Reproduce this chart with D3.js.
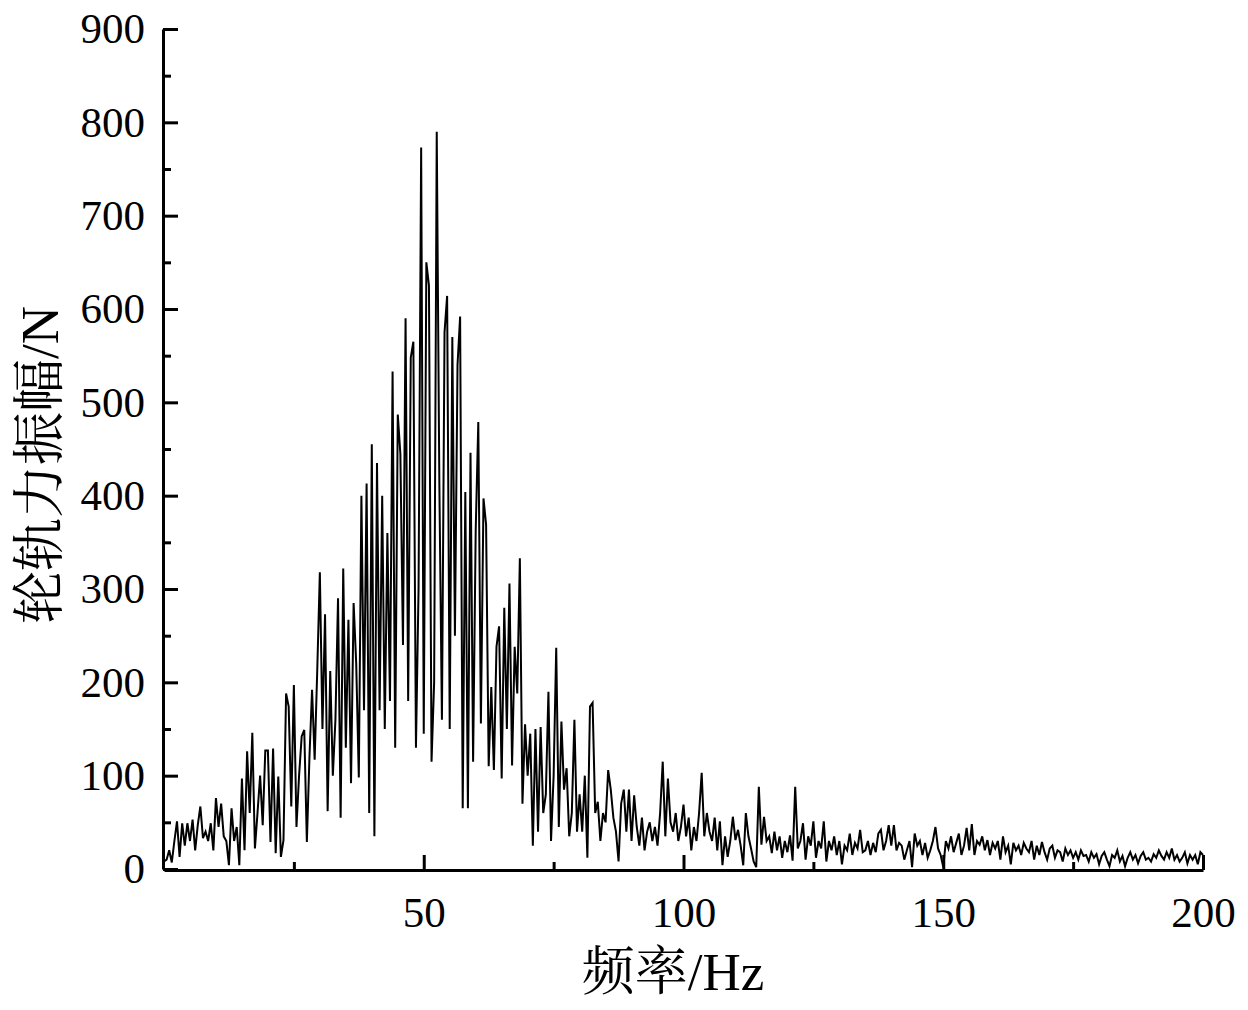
<!DOCTYPE html>
<html>
<head>
<meta charset="utf-8">
<script src="https://cdn.jsdelivr.net/npm/d3@7"></script>
<style>
  html, body { margin: 0; padding: 0; background: #fff; }
  svg { display: block; }
</style>
</head>
<body>
<svg id="chart" width="1248" height="1010"></svg>
<script>
// ---- data (amplitude in N, sampled every 0.5 Hz from 0 Hz) ----
const freqStart = 0;
const freqStep = 0.5;
const amp0to25 = [
  8, 10, 20, 7, 30, 51, 13, 49, 25, 49,
  30, 53, 20, 47, 67, 33, 40, 30, 49, 20,
  76, 45, 70, 35, 30, 4, 65, 30, 45, 4,
  97, 20, 126, 60, 146, 22, 60, 100, 47, 127,
  127, 29, 129, 17, 99, 13, 31, 188, 174, 67
];
const amp25to50 = [
  197, 45, 100, 142, 149, 29, 120, 192, 117, 213,
  318, 150, 273, 62, 212, 100, 160, 290, 55, 322,
  130, 267, 92, 285, 220, 98, 400, 170, 413, 60,
  455, 35, 435, 170, 400, 150, 360, 180, 533, 130,
  487, 445, 240, 590, 180, 548, 565, 130, 300, 773
];
const amp50to75 = [
  145, 650, 625, 115, 200, 790, 415, 160, 575, 614,
  150, 570, 250, 540, 592, 65, 404, 65, 446, 115,
  363, 479, 156, 397, 369, 110, 195, 106, 238, 260,
  97, 280, 150, 306, 111, 238, 188, 333, 70, 155,
  100, 145, 25, 150, 40, 152, 60, 80, 190, 30
];
const amp75to100 = [
  100, 237, 45, 158, 85, 108, 35, 60, 160, 40,
  80, 40, 100, 12, 174, 178, 60, 72, 30, 60,
  50, 106, 85, 55, 40, 8, 70, 85, 40, 85,
  30, 79, 45, 25, 55, 20, 40, 50, 30, 45,
  25, 60, 115, 35, 97, 50, 40, 60, 30, 45
];
const amp100to125 = [
  69, 35, 55, 20, 45, 30, 60, 103, 35, 60,
  40, 30, 55, 20, 51, 4, 35, 13, 30, 56,
  31, 42, 25, 4, 60, 35, 22, 8, 2, 88,
  26, 56, 30, 35, 17, 40, 20, 35, 12, 30,
  18, 36, 9, 88, 22, 30, 49, 10, 35, 25
];
const amp125to150 = [
  51, 12, 30, 22, 51, 8, 30, 20, 35, 15,
  30, 5, 25, 20, 38, 15, 28, 22, 42, 18,
  20, 30, 15, 28, 18, 38, 42, 20, 30, 47,
  25, 47, 20, 28, 25, 10, 20, 30, 2, 38,
  25, 30, 15, 28, 12, 20, 30, 45, 22, 15
];
const amp150to200 = [
  2, 30, 22, 35, 18, 28, 38, 15, 25, 44,
  20, 48, 15, 30, 26, 35, 20, 31, 15, 28,
  22, 30, 10, 35, 18, 25, 5, 28, 20, 25,
  15, 28, 22, 18, 30, 10, 25, 15, 29, 18,
  10, 22, 25, 12, 20, 18, 8, 22, 15, 20,
  12, 18, 10, 20, 14, 15, 8, 18, 12, 16,
  5, 14, 18, 10, 3, 15, 12, 20, 8, 14,
  3, 12, 18, 10, 15, 6, 14, 18, 10, 12,
  8, 16, 12, 20, 14, 10, 18, 12, 22, 10,
  15, 8, 12, 18, 6, 15, 10, 15, 5, 18, 15
];
const xMajorTicks = [50, 100, 150, 200];
const xMinorTicks = [25, 75, 125, 175];
const yMajorTicks = [0, 100, 200, 300, 400, 500, 600, 700, 800, 900];
const yMinorTicks = [50, 150, 250, 350, 450, 550, 650, 750, 850];
const xTitle = "频率/Hz";
const yTitle = "轮轨力振幅/N";

const amplitudes = [].concat(amp0to25, amp25to50, amp50to75, amp75to100, amp100to125, amp125to150, amp150to200);
const series = amplitudes.map((v, i) => ({ f: freqStart + i * freqStep, a: v }));

// ---- layout ----
const svg = d3.select("#chart");
const plotL = 164, plotR = 1203, plotT = 29, plotB = 869;
const x = d3.scaleLinear().domain([0, 200]).range([plotL, plotR]);
const y = d3.scaleLinear().domain([0, 900]).range([plotB, plotT]);

const numFont = "'Liberation Serif', 'Times New Roman', serif";
const titleFont = "'Liberation Serif', 'Noto Serif CJK SC', 'Noto Sans CJK SC', serif";

// line
const line = d3.line().x(d => x(d.f)).y(d => y(d.a));
svg.append("path")
  .datum(series)
  .attr("fill", "none")
  .attr("stroke", "#000")
  .attr("stroke-width", 2)
  .attr("stroke-linejoin", "miter")
  .attr("d", line);

// y axis
const gy = svg.append("g").attr("transform", `translate(${plotL - 1},0)`);
gy.call(d3.axisLeft(y).tickValues(yMajorTicks).tickSizeInner(-15).tickSizeOuter(0).tickPadding(18).tickFormat(d3.format("d")));
gy.append("g").call(d3.axisLeft(y).tickValues(yMinorTicks).tickSizeInner(-8).tickSizeOuter(0).tickFormat(""))
  .select(".domain").remove();

// x axis
const gx = svg.append("g").attr("transform", `translate(0,${plotB + 1})`);
gx.call(d3.axisBottom(x).tickValues(xMajorTicks).tickSizeInner(-15).tickSizeOuter(0).tickPadding(26).tickFormat(d3.format("d")));
gx.append("g").call(d3.axisBottom(x).tickValues(xMinorTicks).tickSizeInner(-8).tickSizeOuter(0).tickFormat(""))
  .select(".domain").remove();

svg.selectAll(".domain").attr("stroke", "#000").attr("stroke-width", 3);
svg.selectAll(".tick line").attr("stroke", "#000").attr("stroke-width", 3);
svg.selectAll(".tick text")
  .attr("fill", "#000")
  .style("font-family", numFont)
  .style("font-size", "43px");

// titles
svg.append("text")
  .attr("x", 673)
  .attr("y", 990)
  .attr("text-anchor", "middle")
  .style("font-family", titleFont)
  .style("font-size", "53px")
  .attr("fill", "#000")
  .text(xTitle);

svg.append("text")
  .attr("transform", `translate(58, 465) rotate(-90)`)
  .attr("text-anchor", "middle")
  .style("font-family", titleFont)
  .style("font-size", "53px")
  .attr("fill", "#000")
  .text(yTitle);
</script>
</body>
</html>
